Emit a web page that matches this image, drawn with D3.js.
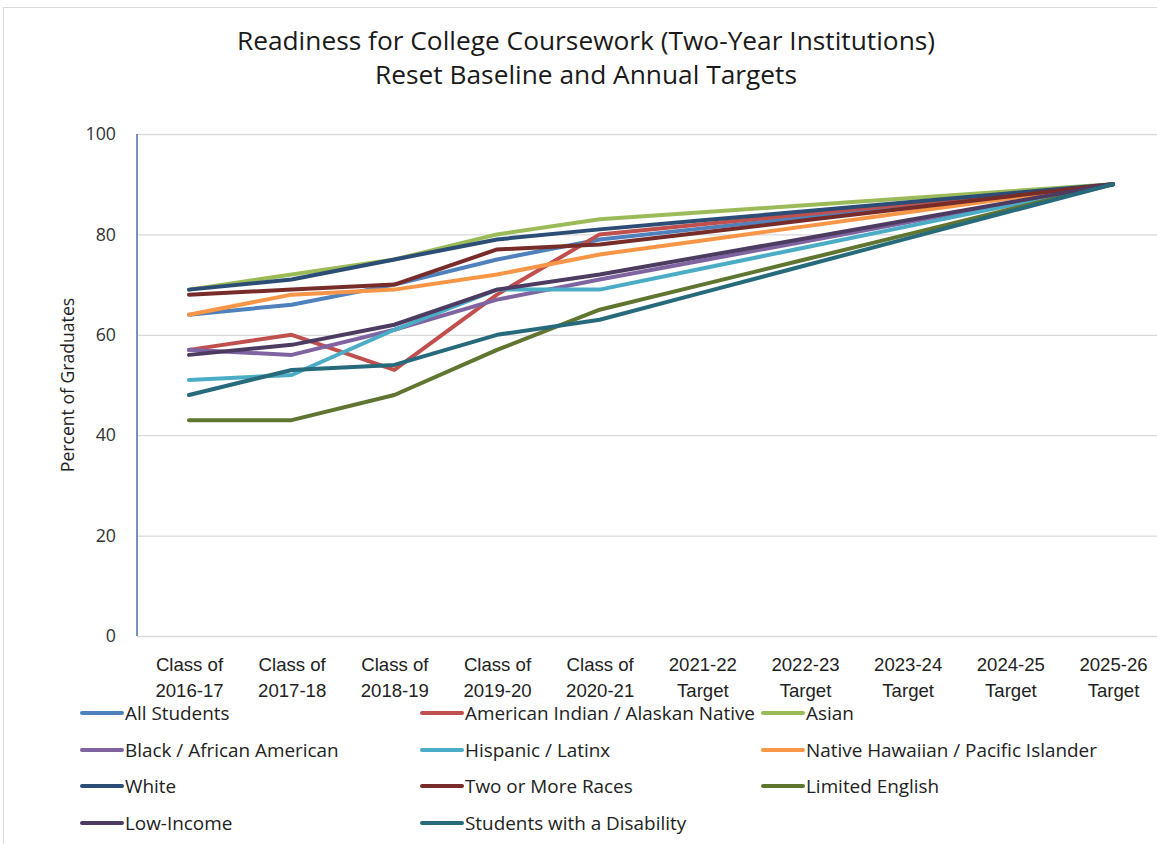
<!DOCTYPE html>
<html><head><meta charset="utf-8">
<script src="https://cdn.jsdelivr.net/npm/d3@7/dist/d3.min.js"></script>
<style>body{margin:0;background:#fff;} svg{display:block;font-family:"Open Sans","Noto Sans",sans-serif;}</style>
</head><body>
<svg id="c" width="1157" height="844"></svg>
<script>
const categories = ["Class of\n2016-17","Class of\n2017-18","Class of\n2018-19","Class of\n2019-20","Class of\n2020-21","2021-22\nTarget","2022-23\nTarget","2023-24\nTarget","2024-25\nTarget","2025-26\nTarget"];
const yTicks = [0,20,40,60,80,100];
const seriesNames = ["All Students","American Indian / Alaskan Native","Asian","Black / African American","Hispanic / Latinx","Native Hawaiian / Pacific Islander","White","Two or More Races","Limited English","Low-Income","Students with a Disability"];
const allStudents   = [64,66,70,75,79,81.2,83.4,85.6,87.8,90];
const amIndian      = [57,60,53,68,80,82,84,86,88,90];
const asian         = [69,72,75,80,83,84.4,85.8,87.2,88.6,90];
const black         = [57,56,61,67,71,74.8,78.6,82.4,86.2,90];
const hispanic      = [51,52,61,69,69,73.2,77.4,81.6,85.8,90];
const nativeHawaiian= [64,68,69,72,76,78.8,81.6,84.4,87.2,90];
const white         = [69,71,75,79,81,82.8,84.6,86.4,88.2,90];
const twoOrMore     = [68,69,70,77,78,80.4,82.8,85.2,87.6,90];
const limitedEnglish= [43,43,48,57,65,70,75,80,85,90];
const lowIncome     = [56,58,62,69,72,75.6,79.2,82.8,86.4,90];
const disability    = [48,53,54,60,63,68.4,73.8,79.2,84.6,90];
const seriesValues = [allStudents,amIndian,asian,black,hispanic,nativeHawaiian,white,twoOrMore,limitedEnglish,lowIncome,disability];
const colors = ["#4F81BD","#C0504D","#9BBB59","#8064A2","#4BACC6","#F79646","#2C4D75","#772C2A","#5F7530","#4D3B62","#276A7C"];

const svg = d3.select("#c");
// frame
svg.append("rect").attr("x",3.5).attr("y",7.5).attr("width",1200).attr("height",900)
  .attr("fill","none").attr("stroke","#d9d9d9");

const x = d3.scalePoint().domain(categories).range([189,1113]);
const y = d3.scaleLinear().domain([0,100]).range([636,134]);

// title
svg.append("text").attr("x",586).attr("y",50).attr("text-anchor","middle")
  .attr("font-size",26.3).attr("fill","#1a1a1a").text("Readiness for College Coursework (Two-Year Institutions)");
svg.append("text").attr("x",586).attr("y",84).attr("text-anchor","middle")
  .attr("font-size",26.3).attr("fill","#1a1a1a").text("Reset Baseline and Annual Targets");

// gridlines
const grid = svg.append("g").attr("transform","translate(137,0)")
  .call(d3.axisLeft(y).tickValues(yTicks).tickSize(-1100).tickFormat(""));
grid.select(".domain").remove();
grid.selectAll("line").attr("stroke","#d9d9d9").attr("stroke-width",1.3);

// y axis labels
const ya = svg.append("g").attr("transform","translate(137,0)")
  .call(d3.axisLeft(y).tickValues(yTicks).tickSize(0).tickPadding(21));
ya.select(".domain").remove();
ya.selectAll("text").attr("font-size",17.8).attr("fill","#333").attr("font-family","'Open Sans',sans-serif");
svg.append("line").attr("x1",137).attr("x2",137).attr("y1",134).attr("y2",636)
  .attr("stroke","#4a6ea8").attr("stroke-width",1.5);

svg.append("text").attr("transform","translate(74,385) rotate(-90)").attr("text-anchor","middle")
  .attr("font-size",17.6).attr("fill","#222").text("Percent of Graduates");

// x axis labels
const xa = svg.append("g").attr("transform","translate(0,636)")
  .call(d3.axisBottom(x).tickSize(0).tickFormat(""));
xa.select(".domain").remove();
xa.selectAll(".tick").each(function(d){
  const parts = d.split("\n");
  const t = d3.select(this).append("text").attr("text-anchor","middle").attr("font-size",18.6).attr("fill","#222");
  t.append("tspan").attr("x",0).attr("y",34.5).text(parts[0]);
  t.append("tspan").attr("x",0).attr("y",60.5).text(parts[1]);
});

// lines
const line = d3.line().x((d,i)=>x(categories[i])).y(d=>y(d));
seriesValues.forEach((vals,i)=>{
  svg.append("path").datum(vals).attr("d",line).attr("fill","none")
    .attr("stroke",colors[i]).attr("stroke-width",4).attr("stroke-linejoin","round").attr("stroke-linecap","round");
});

// legend
const colX = [82,422,763];
const rowY = [713,750,786,823];
seriesNames.forEach((n,i)=>{
  const cx = colX[i%3], cy = rowY[Math.floor(i/3)];
  svg.append("line").attr("x1",cx).attr("x2",cx+40).attr("y1",cy).attr("y2",cy)
    .attr("stroke",colors[i]).attr("stroke-width",4).attr("stroke-linecap","round");
  svg.append("text").attr("x",cx+43).attr("y",cy+6.5).attr("font-size",18.9).attr("fill","#222").text(n);
});
</script>
</body></html>
